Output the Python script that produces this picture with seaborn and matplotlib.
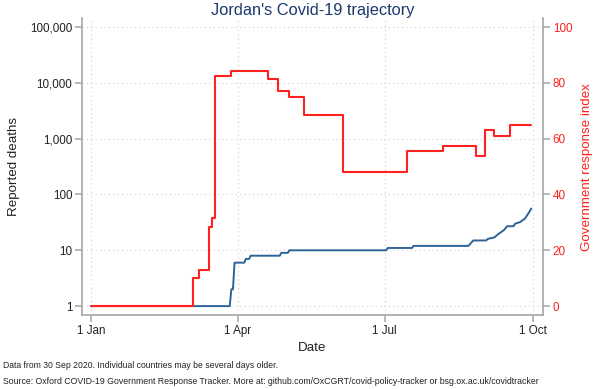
import matplotlib
matplotlib.use("Agg")
import matplotlib.pyplot as plt
import matplotlib.ticker as mticker
import pandas as pd
import seaborn as sns

# Reported deaths (floored at 1 on the log axis)
death_dates = ["2020-01-01", "2020-03-27", "2020-03-28", "2020-03-29", "2020-03-30",
               "2020-04-05", "2020-04-06", "2020-04-08", "2020-04-09", "2020-04-27",
               "2020-04-28", "2020-05-02", "2020-05-03", "2020-07-02", "2020-07-03",
               "2020-07-18", "2020-07-19", "2020-08-22", "2020-08-25", "2020-09-02",
               "2020-09-03", "2020-09-07", "2020-09-10", "2020-09-13", "2020-09-15",
               "2020-09-19", "2020-09-20", "2020-09-23", "2020-09-26", "2020-09-28",
               "2020-09-30"]
deaths = [1, 1, 2, 2, 6, 6, 7, 7, 8, 8, 9, 9, 10, 10, 11, 11, 12, 12, 15, 15,
          16, 17, 20, 23, 27, 27, 30, 32, 37, 45, 56]

# Government response index, value from each change date on
resp_dates = ["2020-01-01", "2020-03-04", "2020-03-08", "2020-03-14", "2020-03-16",
              "2020-03-18", "2020-03-28", "2020-04-20", "2020-04-26", "2020-05-03",
              "2020-05-12", "2020-06-05", "2020-07-15", "2020-08-06", "2020-08-27",
              "2020-09-01", "2020-09-07", "2020-09-17", "2020-09-30"]
resp_index = [0, 10.2, 12.9, 28.2, 31.5, 82.4, 84.3, 81.5, 76.9, 75.0,
              68.5, 48.2, 55.6, 57.4, 53.7, 63.0, 61.1, 64.8, 64.8]

x_ticks = ["2020-01-01", "2020-04-01", "2020-07-01", "2020-10-01"]
x_tick_labels = ["1 Jan", "1 Apr", "1 Jul", "1 Oct"]
y_ticks = [1, 10, 100, 1000, 10000, 100000]
y2_ticks = [0, 20, 40, 60, 80, 100]

BLUE = "#2e6399"
RED = "#ff2020"
GREY = "#a6a6a6"
NAVY = "#1a3a6e"

sns.set_style("white")
plt.rcParams["font.family"] = ["Liberation Sans", "DejaVu Sans"]

df_d = pd.DataFrame({"date": pd.to_datetime(death_dates), "deaths": deaths})
df_r = pd.DataFrame({"date": pd.to_datetime(resp_dates), "index": resp_index})

fig = plt.figure(figsize=(5.96, 3.89), dpi=100)
ax = fig.add_axes([0.1376, 0.190, 0.7734, 0.7635])
sns.lineplot(data=df_d, x="date", y="deaths", ax=ax, color=BLUE, linewidth=1.4)
ax.set_yscale("log")
ax.set_ylim(0.69, 145000)
ax.set_xlim(pd.Timestamp("2019-12-26 10:00"), pd.Timestamp("2020-10-07 05:00"))
ax.set_yticks(y_ticks)
ax.yaxis.set_major_formatter(mticker.FuncFormatter(lambda v, p: f"{v:,.0f}"))
ax.yaxis.set_minor_locator(mticker.NullLocator())
ax.set_xticks(pd.to_datetime(x_ticks))
ax.set_xticklabels(x_tick_labels)

ax2 = ax.twinx()
sns.lineplot(data=df_r, x="date", y="index", ax=ax2, color=RED, linewidth=1.5,
             drawstyle="steps-post")
ax2.set_ylim(-3.23, 103.2)
ax2.set_yticks(y2_ticks)
ax2.set_xlim(ax.get_xlim())

for a in (ax, ax2):
    a.spines["top"].set_visible(False)
    for s in ("left", "bottom", "right"):
        a.spines[s].set_color(GREY)
        a.spines[s].set_linewidth(1.2)
ax.spines["right"].set_visible(False)
ax2.spines["left"].set_visible(False)
ax2.spines["bottom"].set_visible(False)

ax.grid(True, which="major", color="#d6d6d6", linestyle=(0, (1, 2.5)), linewidth=0.9)
ax.tick_params(axis="both", which="major", direction="out", length=5, width=1.1,
               color=GREY, labelsize=8.4, labelcolor="#222222", pad=2, left=True, bottom=True)
ax2.tick_params(axis="y", direction="out", length=5, width=1.1, color=GREY,
                labelsize=8.4, labelcolor=RED, pad=2, right=True)

ax.set_xlabel("Date", fontsize=9.6, color="#222222", labelpad=4)
ax.set_ylabel("Reported deaths", fontsize=9.6, color="#222222", labelpad=7)
ax2.set_ylabel("Government response index", fontsize=9.6, color=RED, labelpad=6)
ax.set_title("Jordan's Covid-19 trajectory", fontsize=11.8, color=NAVY, pad=1)

fig.text(0.005, 0.054, "Data from 30 Sep 2020. Individual countries may be several days older.",
         fontsize=6.2, color="#222222")
fig.text(0.005, 0.013, "Source: Oxford COVID-19 Government Response Tracker. More at: "
         "github.com/OxCGRT/covid-policy-tracker or bsg.ox.ac.uk/covidtracker",
         fontsize=6.3, color="#222222")

fig.savefig("out.png", dpi=100)
plt.close(fig)
